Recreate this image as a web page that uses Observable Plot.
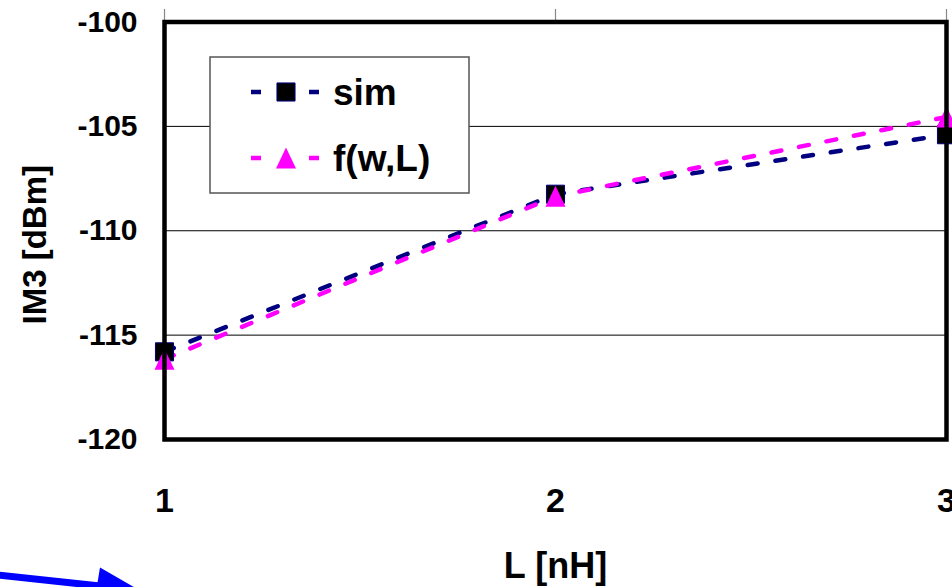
<!DOCTYPE html>
<html><head><meta charset="utf-8">
<script src="https://cdn.jsdelivr.net/npm/d3@7"></script>
<script src="https://cdn.jsdelivr.net/npm/@observablehq/plot@0.6"></script>
<style>
body{margin:0;background:#fff;}
#chart{position:relative;width:952px;height:587px;overflow:hidden;}
</style></head><body><div id="chart"></div>
<script>
const L = [1, 2, 3];
const simValues = [-115.8, -108.25, -105.4];
const fitValues = [-116.15, -108.35, -104.55];
const seriesNames = ["sim", "f(w,L)"];
const seriesColors = ["#000080", "#ff00ff"];
const yTicks = [-120, -115, -110, -105, -100];
const gridTicks = [-115, -110, -105];
const xTicks = [1, 2, 3];
const xLabel = "L [nH]";
const yLabel = "IM3 [dBm]";

const sim = L.map((l, i) => ({L: l, v: simValues[i], s: seriesNames[0]}));
const fit = L.map((l, i) => ({L: l, v: fitValues[i], s: seriesNames[1]}));

const font = "'Liberation Sans', Arial, sans-serif";
const tri = {draw(ctx, size) {
  const r = Math.sqrt(size / Math.PI);
  ctx.moveTo(0, -1.05 * r); ctx.lineTo(r, 1.05 * r); ctx.lineTo(-r, 1.05 * r); ctx.closePath();
}};

const plot = Plot.plot({
  width: 952, height: 587,
  marginLeft: 164, marginRight: 6, marginTop: 21.5, marginBottom: 148,
  style: {fontFamily: font, fontWeight: "bold", background: "white", color: "black"},
  x: {domain: [1, 3], ticks: xTicks},
  y: {domain: [-120, -100], ticks: yTicks},
  marks: [
    Plot.gridY(gridTicks, {stroke: "black", strokeOpacity: 1, strokeWidth: 1}),
    Plot.axisX({anchor: "top", ticks: xTicks, tickSize: 13.5, tickFormat: () => "", stroke: "#888", strokeWidth: 1.2, label: null}),
    Plot.line(sim, {x: "L", y: "v", stroke: seriesColors[0], strokeWidth: 4.5, strokeDasharray: "10,18"}),
    Plot.line(fit, {x: "L", y: "v", stroke: seriesColors[1], strokeWidth: 4.5, strokeDasharray: "10,18"}),
    Plot.dot(sim, {x: "L", y: "v", symbol: "square", r: 10.2, fill: "black", stroke: seriesColors[0], strokeWidth: 1}),
    Plot.dot(fit, {x: "L", y: "v", symbol: tri, r: 10, fill: seriesColors[1], stroke: "none"}),
    Plot.frame({stroke: "black", strokeWidth: 4.5}),
    Plot.axisX({anchor: "bottom", ticks: xTicks, tickSize: 0, tickPadding: 48, fontSize: 34, tickFormat: d => String(d), label: null}),
    Plot.axisY({anchor: "left", ticks: yTicks, tickSize: 0, tickPadding: 27, fontSize: 30, tickFormat: d => String(d), label: null}),
    Plot.text([yLabel], {text: d => d, frameAnchor: "left", textAnchor: "middle", lineAnchor: "middle", dx: -129, dy: 14, rotate: -90, fontSize: 33, fontWeight: "bold"}),
    Plot.text([xLabel], {text: d => d, frameAnchor: "bottom", textAnchor: "middle", lineAnchor: "middle", dy: 127, fontSize: 36, fontWeight: "bold"})
  ]
});
document.getElementById("chart").appendChild(plot);

// legend box inside the plot
const svg = d3.select(plot);
const lg = svg.append("g").attr("font-family", font).attr("font-weight", "bold");
lg.append("rect").attr("x", 210).attr("y", 57).attr("width", 259).attr("height", 136)
  .attr("fill", "white").attr("stroke", "#555").attr("stroke-width", 1.5);
const rowY = [92, 158];
const symbols = [d3.symbol(d3.symbolSquare, 10.2 * 10.2 * Math.PI), d3.symbol(tri, 100 * Math.PI)];
seriesNames.forEach((name, i) => {
  lg.append("line").attr("x1", 251).attr("x2", 319).attr("y1", rowY[i]).attr("y2", rowY[i])
    .attr("stroke", seriesColors[i]).attr("stroke-width", 4.5).attr("stroke-dasharray", "10,48");
  lg.append("path").attr("d", symbols[i]()).attr("transform", `translate(286,${rowY[i]})`)
    .attr("fill", i === 0 ? "black" : seriesColors[1])
    .attr("stroke", i === 0 ? seriesColors[0] : "none").attr("stroke-width", 1);
  lg.append("text").attr("x", 333).attr("y", rowY[i]).attr("dy", "0.36em")
    .attr("text-anchor", "start").attr("font-size", 37).attr("fill", "black").text(name);
});

// decorative blue arrow at bottom-left
const ar = svg.append("g");
ar.append("line").attr("x1", -5).attr("y1", 574.7).attr("x2", 100).attr("y2", 586)
  .attr("stroke", "#0000ff").attr("stroke-width", 7);
ar.append("path").attr("d", "M100,567.5L139,590L94,604Z").attr("fill", "#0000ff");
</script>
</body></html>
